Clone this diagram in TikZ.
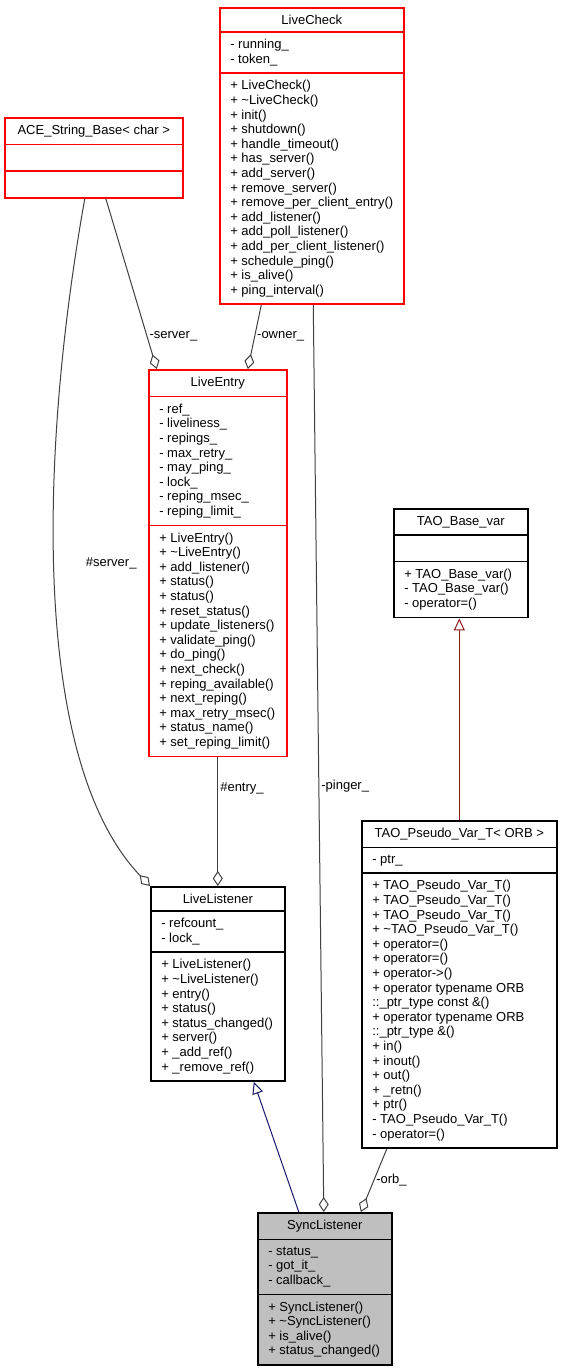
\documentclass[tikz,border=0pt]{standalone}
\usepackage{fontspec}
\setmainfont{Liberation Sans}
\usetikzlibrary{shapes.multipart,arrows.meta,calc}
\definecolor{boxred}{RGB}{255,0,0}
\definecolor{edgegray}{RGB}{64,64,64}
\definecolor{pubblue}{RGB}{25,25,112}
\definecolor{privred}{RGB}{139,26,26}
\definecolor{selfgray}{RGB}{191,191,191}
\tikzset{cls/.style={rectangle split, rectangle split parts=3, draw, fill=white,
    line width=1.6pt, minimum width=#1, inner xsep=10.5pt, inner ysep=6.5pt,
    anchor=north west, align=left, rectangle split part align={center,left,left},
    rectangle split empty part height=10pt, rectangle split empty part depth=2pt,
    font=\fontsize{13}{14.6}\selectfont}}
\tikzset{lbl/.style={font=\fontsize{13}{14.6}\selectfont, inner sep=2pt}}
\tikzset{agg/.style={draw=edgegray, line width=1pt,
    -{Diamond[open, length=15pt, width=10pt, line width=1pt]}}}
\tikzset{inh/.style={line width=1pt,
    -{Triangle[open, length=12pt, width=11pt, line width=1pt]}}}
\begin{document}
\begin{tikzpicture}[x=1pt, y=-1pt]
  \fill[white] (0,0) rectangle (561,1368);
  % classes
  \node[cls=178pt, draw=boxred] (ace) at (4,117) {ACE\_String\_Base< char >\nodepart{second}\nodepart{third}};
  \node[cls=183pt, draw=boxred] (check) at (219,7) {LiveCheck
    \nodepart{second}- running\_\\- token\_
    \nodepart{third}+ LiveCheck()\\+ \textasciitilde LiveCheck()\\+ init()\\+ shutdown()\\+ handle\_timeout()\\+ has\_server()\\+ add\_server()\\+ remove\_server()\\+ remove\_per\_client\_entry()\\+ add\_listener()\\+ add\_poll\_listener()\\+ add\_per\_client\_listener()\\+ schedule\_ping()\\+ is\_alive()\\+ ping\_interval()};
  \node[cls=138pt, draw=boxred] (entry) at (148,369) {LiveEntry
    \nodepart{second}- ref\_\\- liveliness\_\\- repings\_\\- max\_retry\_\\- may\_ping\_\\- lock\_\\- reping\_msec\_\\- reping\_limit\_
    \nodepart{third}+ LiveEntry()\\+ \textasciitilde LiveEntry()\\+ add\_listener()\\+ status()\\+ status()\\+ reset\_status()\\+ update\_listeners()\\+ validate\_ping()\\+ do\_ping()\\+ next\_check()\\+ reping\_available()\\+ next\_reping()\\+ max\_retry\_msec()\\+ status\_name()\\+ set\_reping\_limit()};
  \node[cls=134pt] (basevar) at (393,508) {TAO\_Base\_var
    \nodepart{second}
    \nodepart{third}+ TAO\_Base\_var()\\- TAO\_Base\_var()\\- operator=()};
  \node[cls=195pt] (pseudo) at (361,820) {TAO\_Pseudo\_Var\_T< ORB >
    \nodepart{second}- ptr\_
    \nodepart{third}+ TAO\_Pseudo\_Var\_T()\\+ TAO\_Pseudo\_Var\_T()\\+ TAO\_Pseudo\_Var\_T()\\+ \textasciitilde TAO\_Pseudo\_Var\_T()\\+ operator=()\\+ operator=()\\+ operator->()\\+ operator typename ORB\\::\_ptr\_type const \&()\\+ operator typename ORB\\::\_ptr\_type \&()\\+ in()\\+ inout()\\+ out()\\+ \_retn()\\+ ptr()\\- TAO\_Pseudo\_Var\_T()\\- operator=()};
  \node[cls=134pt] (listener) at (150,886) {LiveListener
    \nodepart{second}- refcount\_\\- lock\_
    \nodepart{third}+ LiveListener()\\+ \textasciitilde LiveListener()\\+ entry()\\+ status()\\+ status\_changed()\\+ server()\\+ \_add\_ref()\\+ \_remove\_ref()};
  \node[cls=134pt, fill=selfgray] (sync) at (257,1212) {SyncListener
    \nodepart{second}- status\_\\- got\_it\_\\- callback\_
    \nodepart{third}+ SyncListener()\\+ \textasciitilde SyncListener()\\+ is\_alive()\\+ status\_changed()};
  % relations
  \draw[agg] ($(ace.south)+(12,0)$) -- ($(entry.north)+(-61,0)$)
    node[lbl, pos=0.81, right] {-server\_};
  \draw[agg] ($(check.south)+(-50.5,0)$) -- ($(entry.north)+(30,0)$)
    node[lbl, pos=0.49, right] {-owner\_};
  \draw[agg] ($(ace.south)+(-9,0)$) .. controls (40,450) and (30,760) .. (listener.north west)
    node[lbl, pos=0.465, anchor=west, xshift=29pt] {\#server\_};
  \draw[agg] (entry.south) -- (listener.north)
    node[lbl, pos=0.24, right] {\#entry\_};
  \draw[agg] ($(check.south)+(1.5,0)$) -- ($(sync.north)+(-1,0)$)
    node[lbl, pos=0.53, right] {-pinger\_};
  \draw[agg] ($(pseudo.south)+(-72.5,0)$) -- ($(sync.north)+(36,0)$)
    node[lbl, pos=0.5, right] {-orb\_};
  \draw[inh, draw=pubblue] ($(sync.north)+(-26,0)$) -- ($(listener.south)+(36,0)$);
  \draw[inh, draw=privred] (pseudo.north) -- (pseudo.north |- basevar.south);
\end{tikzpicture}
\end{document}
